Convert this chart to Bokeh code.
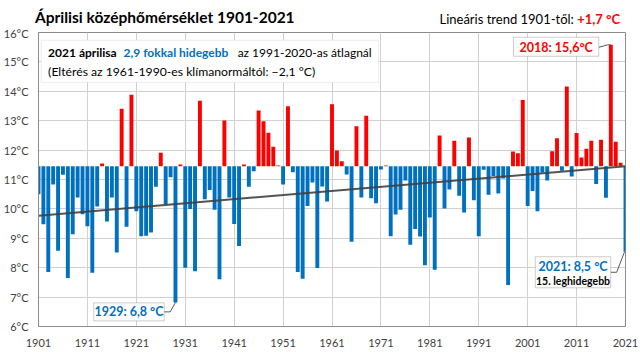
from bokeh.plotting import figure
from bokeh.layouts import column
from bokeh.models import (ColumnDataSource, Range1d, FixedTicker, Label, BoxAnnotation, Div)
from bokeh.embed import file_html
from bokeh.resources import INLINE

# ---- data ----
years = list(range(1901, 2022))
temps = [
    10.50, 9.48, 7.85, 10.83, 8.58, 11.16, 7.65, 9.14, 10.39, 9.82,   # 1901-1910
    9.41, 7.83, 10.08, 11.54, 9.57, 10.39, 8.52, 13.41, 9.39, 13.88,  # 1911-1920
    9.92, 9.07, 9.09, 9.20, 10.75, 11.91, 10.15, 11.08, 6.82, 11.51,  # 1921-1930
    8.00, 10.00, 7.88, 13.68, 10.33, 10.64, 9.97, 7.61, 13.01, 10.39, # 1931-1940
    9.49, 8.74, 11.51, 10.75, 11.28, 13.35, 12.98, 12.59, 12.11, 11.48, # 1941-1950
    10.83, 13.49, 11.25, 7.85, 7.62, 10.10, 10.90, 7.99, 10.76, 10.25, # 1951-1960
    13.56, 11.99, 11.62, 11.17, 8.88, 12.81, 10.39, 13.17, 10.36, 10.19, # 1961-1970
    11.34, 11.48, 9.07, 9.81, 9.97, 10.97, 8.78, 9.32, 9.06, 8.08,    # 1971-1980
    9.71, 7.93, 12.50, 10.01, 10.66, 12.32, 10.45, 9.88, 12.43, 10.29, # 1981-1990
    9.07, 11.33, 10.48, 11.12, 10.52, 11.03, 7.41, 11.95, 11.89, 13.70, # 1991-2000
    10.10, 10.61, 9.92, 11.24, 10.97, 11.96, 12.40, 11.30, 14.16, 11.10, # 2001-2010
    12.58, 11.75, 12.05, 12.32, 10.85, 12.35, 10.38, 15.58, 12.28, 11.57, # 2011-2020
    8.54,                                                              # 2021
]
baseline = 11.45          # 1991-2020 average
trend_years = [1901, 2021]
trend_vals = [9.77, 11.45]
x_ticks = list(range(1901, 2022, 10))
y_ticks = list(range(6, 17))
y_tick_labels = {t: f"{t}°C" for t in y_ticks}

BLUE = "#0070C0"
RED = "#FF0000"
FONT = "Lato"

HEAD_H = 26
# ---- header (title + trend note) ----
head_html = (
    f'<div style="position:relative;width:640px;height:{HEAD_H}px;font-family:{FONT};color:#000;">'
    f'<span style="position:absolute;left:35px;top:10px;font-size:15.5px;line-height:15.5px;'
    f'font-weight:bold;white-space:nowrap;">Áprilisi középhőmérséklet 1901-2021</span>'
    f'<span style="position:absolute;right:20px;top:12.5px;font-size:13px;line-height:13px;white-space:nowrap;">'
    f'Lineáris trend 1901-től: <b style="color:{RED};">+1,7 °C</b></span>'
    f'</div>'
)
head = Div(text=head_html, width=640, height=HEAD_H, margin=0)

# ---- main chart ----
colors = [RED if t > baseline else BLUE for t in temps]
src = ColumnDataSource(dict(x=years, top=temps, bottom=[baseline] * len(years), color=colors))

p = figure(width=640, height=352 - HEAD_H, x_range=Range1d(1901, 2021), y_range=Range1d(6, 16),
           output_backend="svg", toolbar_location=None, title=None, margin=0,
           min_border_left=32, min_border_right=15, min_border_top=32 - HEAD_H, min_border_bottom=26)
p.background_fill_color = "white"
p.border_fill_color = "white"
p.outline_line_color = "#8C8C8C"
p.outline_line_width = 1

p.xaxis.ticker = FixedTicker(ticks=x_ticks)
p.yaxis.ticker = FixedTicker(ticks=y_ticks)
p.yaxis.major_label_overrides = y_tick_labels
for ax in (p.xaxis, p.yaxis):
    ax.major_tick_line_color = None
    ax.minor_tick_line_color = None
    ax.axis_line_color = "#8C8C8C"
    ax.major_label_text_font = FONT
    ax.major_label_text_font_size = "11px"
    ax.major_label_text_color = "#404040"
p.yaxis.major_label_standoff = 4
p.xaxis.major_label_standoff = 6
p.xgrid.ticker = FixedTicker(ticks=x_ticks)
p.ygrid.ticker = FixedTicker(ticks=y_ticks)
p.grid.grid_line_color = "#D0D0D0"
p.grid.grid_line_width = 1

p.vbar(x="x", top="top", bottom="bottom", width=0.8, fill_color="color", line_color=None, source=src)
p.line(trend_years, trend_vals, line_color="#404040", line_width=2, line_alpha=0.9)

TOP = 32.3  # page y of the 16 °C line


def dx(px):
    return 1901 + (px - 32.3) / 4.93


def dy(py):
    return 16 - (py - TOP) / 29.33


def label(px, py, text, size="12px", style="normal", color="black", align="left"):
    p.add_layout(Label(x=dx(px), y=dy(py), text=text, text_font=FONT, text_font_size=size,
                       text_font_style=style, text_color=color, text_align=align,
                       text_baseline="middle"))


# Info box
p.add_layout(BoxAnnotation(left=dx(35), right=dx(375), top=dy(40), bottom=dy(82),
                           fill_color="white", fill_alpha=1, line_color="#C0C0C0", line_width=1))
label(42, 52, "2021 áprilisa", style="bold")
label(118, 52, "2,9 fokkal hidegebb", style="bold", color=BLUE)
label(233, 52, "az 1991-2020-as átlagnál")
label(42, 71, "(Eltérés az 1961-1990-es klímanormáltól: −2,1 °C)", size="12.2px")

# 2018 callout
i18 = years.index(2018)
p.add_layout(BoxAnnotation(left=dx(511), right=dx(597), top=dy(37), bottom=dy(56),
                           fill_color="white", fill_alpha=1, line_color="#595959", line_width=1))
label(554, 47, "2018: 15,6°C", size="12.5px", style="bold", color=RED, align="center")
p.line([dx(597), dx(606), years[i18]], [dy(47), temps[i18], temps[i18]], line_color="#595959", line_width=1)

# 1929 callout
i29 = years.index(1929)
p.add_layout(BoxAnnotation(left=dx(88), right=dx(159), top=dy(302), bottom=dy(320),
                           fill_color="white", fill_alpha=1, line_color="#595959", line_width=1))
label(123.5, 311, "1929: 6,8 °C", size="12.5px", style="bold", color=BLUE, align="center")
p.line([dx(159), dx(165), years[i29]], [dy(311), dy(311), temps[i29]], line_color="#595959", line_width=1)

# 2021 callout
i21 = years.index(2021)
p.add_layout(BoxAnnotation(left=dx(533), right=dx(609), top=dy(256), bottom=dy(287),
                           fill_color="white", fill_alpha=1, line_color="#595959", line_width=1))
label(571, 266, "2021: 8,5 °C", size="12.5px", style="bold", color=BLUE, align="center")
label(571, 280, "15. leghidegebb", size="10.5px", style="bold", color="black", align="center")
p.line([dx(609), dx(615), years[i21] - 0.2], [dy(271.5), dy(271.5), temps[i21]], line_color="#595959", line_width=1)

layout = column(head, p, spacing=0, margin=0)
open("out.html", "w").write(file_html(layout, INLINE))
